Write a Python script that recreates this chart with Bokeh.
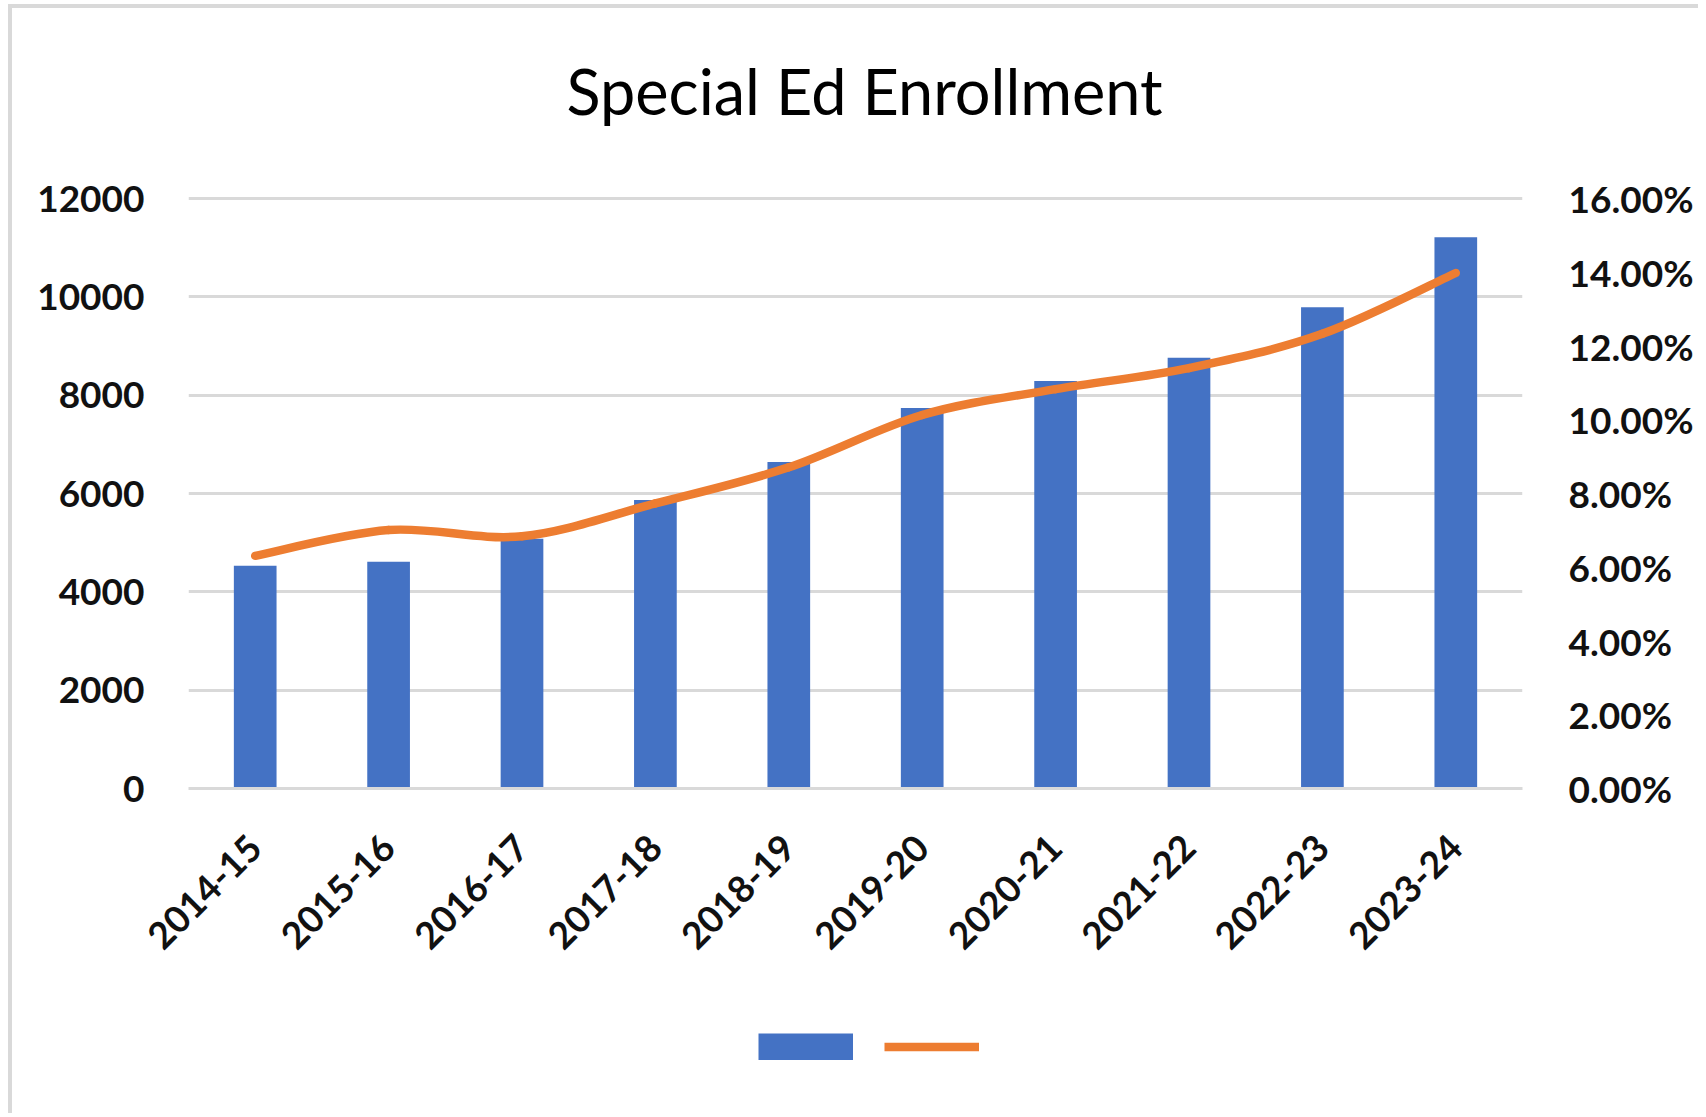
import math
from bokeh.plotting import figure
from bokeh.layouts import column
from bokeh.models import (Range1d, LinearAxis, FixedTicker, NumeralTickFormatter,
                          Legend, LegendItem)
from bokeh.embed import file_html
from bokeh.resources import INLINE

# ---- data ----
categories = ["2014-15", "2015-16", "2016-17", "2017-18", "2018-19",
              "2019-20", "2020-21", "2021-22", "2022-23", "2023-24"]
enrollment = [4530, 4610, 5080, 5870, 6640, 7740, 8290, 8760, 9790, 11210]
pct_share = [0.0631, 0.0701, 0.0684, 0.0773, 0.0871, 0.1013, 0.1083, 0.1140, 0.1233, 0.1398]
left_ticks = [0, 2000, 4000, 6000, 8000, 10000, 12000]
right_ticks = [0.0, 0.02, 0.04, 0.06, 0.08, 0.10, 0.12, 0.14, 0.16]
title_text = "Special Ed Enrollment"

BLUE = "#4472C4"
ORANGE = "#ED7D31"
GRID = "#D9D9D9"
FONT = "Lato"
TXT = "#111111"
LABEL_STYLE = "bold"
W = 1686

xs = [i + 0.5 for i in range(len(categories))]
PAD = 1.0034  # tiny headroom so the top gridline is drawn

# ---- title strip ----
tf = figure(width=W, height=162, x_range=Range1d(0, 1), y_range=Range1d(0, 1),
            output_backend="svg", toolbar_location=None,
            x_axis_type=None, y_axis_type=None, min_border=0)
tf.outline_line_color = None
tf.xgrid.visible = False
tf.ygrid.visible = False
tf.title.text = title_text
tf.title.align = "left"
tf.title.offset = 378
tf.title.standoff = 85
tf.title.text_font = FONT
tf.title.text_font_size = "63px"
tf.title.text_font_style = "normal"
tf.title.text_color = "#000000"

# ---- main chart ----
p = figure(width=W, height=828,
           x_range=Range1d(0, len(categories)),
           y_range=Range1d(left_ticks[0], left_ticks[-1] * PAD),
           output_backend="svg", toolbar_location=None,
           min_border_left=176, min_border_right=176,
           min_border_top=26, min_border_bottom=210)
p.extra_y_ranges = {"pct": Range1d(right_ticks[0], right_ticks[-1] * PAD)}
p.outline_line_color = None
p.background_fill_color = "white"
p.border_fill_color = "white"

# bars
bars = p.vbar(x=xs, top=enrollment, width=0.32, fill_color=BLUE, line_color=None)

# smoothed line (Catmull-Rom style bezier through the data points)
n = len(xs)
P = list(zip(xs, pct_share))
bx0, by0, bx1, by1, c0x, c0y, c1x, c1y = ([] for _ in range(8))
for i in range(n - 1):
    pm = P[i - 1] if i > 0 else P[i]
    pa = P[i]
    pb = P[i + 1]
    pn = P[i + 2] if i + 2 < n else P[i + 1]
    bx0.append(pa[0]); by0.append(pa[1])
    bx1.append(pb[0]); by1.append(pb[1])
    c0x.append(pa[0] + (pb[0] - pm[0]) / 6.0); c0y.append(pa[1] + (pb[1] - pm[1]) / 6.0)
    c1x.append(pb[0] - (pn[0] - pa[0]) / 6.0); c1y.append(pb[1] - (pn[1] - pa[1]) / 6.0)
p.bezier(x0=bx0, y0=by0, x1=bx1, y1=by1, cx0=c0x, cy0=c0y, cx1=c1x, cy1=c1y,
         y_range_name="pct", line_color=ORANGE, line_width=8.5, line_cap="round")

# axes
xa = p.xaxis[0]
xa.ticker = FixedTicker(ticks=xs)
xa.major_label_overrides = {x: c for x, c in zip(xs, categories)}
xa.major_label_orientation = math.pi / 4
xa.major_label_text_font = FONT
xa.major_label_text_font_size = "37px"
xa.major_label_text_font_style = LABEL_STYLE
xa.major_label_text_color = TXT
xa.major_label_standoff = 47
xa.axis_line_color = GRID
xa.axis_line_width = 3
xa.major_tick_line_color = None
xa.minor_tick_line_color = None

ya = p.yaxis[0]
ya.ticker = FixedTicker(ticks=left_ticks)
ya.formatter = NumeralTickFormatter(format="0")
ya.major_label_text_font = FONT
ya.major_label_text_font_size = "37px"
ya.major_label_text_font_style = LABEL_STYLE
ya.major_label_text_color = TXT
ya.major_label_standoff = 38
ya.axis_line_color = None
ya.major_tick_line_color = None
ya.minor_tick_line_color = None

ra = LinearAxis(y_range_name="pct", ticker=FixedTicker(ticks=right_ticks),
                formatter=NumeralTickFormatter(format="0.00%"))
ra.major_label_text_font = FONT
ra.major_label_text_font_size = "37px"
ra.major_label_text_font_style = LABEL_STYLE
ra.major_label_text_color = TXT
ra.major_label_standoff = 40
ra.axis_line_color = None
ra.major_tick_line_color = None
ra.minor_tick_line_color = None
p.add_layout(ra, "right")

p.xgrid.visible = False
p.ygrid.grid_line_color = GRID
p.ygrid.grid_line_width = 3

# ---- legend strip ----
lg = figure(width=W, height=115, x_range=Range1d(0, 1), y_range=Range1d(0, 1),
            output_backend="svg", toolbar_location=None,
            x_axis_type=None, y_axis_type=None, min_border=0)
lg.outline_line_color = None
lg.xgrid.visible = False
lg.ygrid.visible = False
lg_bar = lg.line(xs, enrollment, line_color=BLUE, line_width=27, line_cap="butt", visible=False)
lg_line = lg.line(xs, pct_share, line_color=ORANGE, line_width=8.5, visible=False)
legend = Legend(items=[LegendItem(label=" ", renderers=[lg_bar]),
                       LegendItem(label=" ", renderers=[lg_line])],
                orientation="horizontal", location=(570, 53),
                border_line_color=None, background_fill_alpha=0,
                glyph_width=95, glyph_height=27, label_width=0, label_height=0,
                label_standoff=0, spacing=31, label_text_font_size="1px",
                margin=0, padding=0)
lg.add_layout(legend, "center")

page = column(tf, p, lg, spacing=0)
page.styles = {"margin-left": "8px", "margin-top": "4px",
               "border-left": "4px solid #d9d9d9", "border-top": "4px solid #d9d9d9"}

open("out.html", "w").write(file_html(page, INLINE))
